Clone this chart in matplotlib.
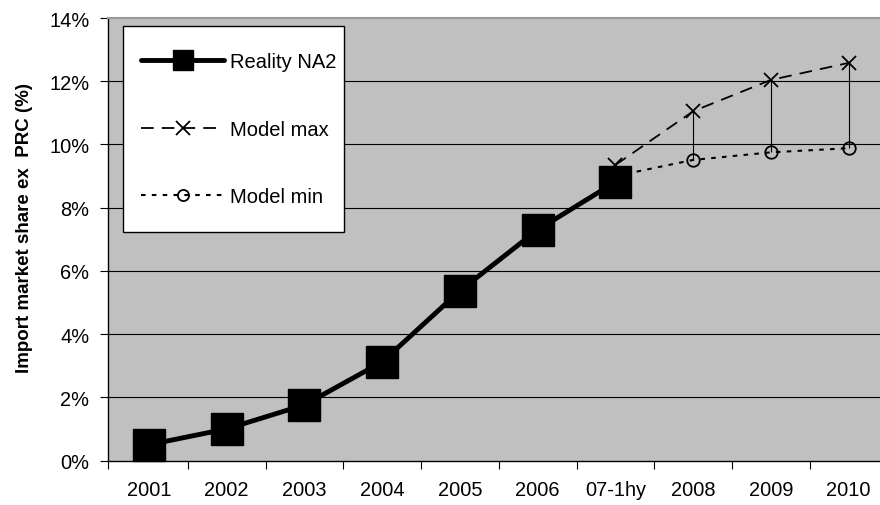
import numpy as np
import matplotlib
matplotlib.use("Agg")
import matplotlib.pyplot as plt
from matplotlib.lines import Line2D
from matplotlib.patches import Rectangle

plt.rcParams['font.family'] = ['Liberation Sans', 'DejaVu Sans']

# Categories and series (import market share, %)
categories = ["2001", "2002", "2003", "2004", "2005", "2006", "07-1hy", "2008", "2009", "2010"]
reality_na2 = [0.5, 1.0, 1.76, 3.12, 5.37, 7.3, 8.81]
model_cats = ["07-1hy", "2008", "2009", "2010"]
model_max = [9.35, 11.05, 12.04, 12.58]
model_min = [9.0, 9.51, 9.75, 9.88]
y_ticks = [0, 2, 4, 6, 8, 10, 12, 14]

x_all = np.arange(len(categories))
x_real = x_all[:len(reality_na2)]
x_model = np.array([categories.index(c) for c in model_cats])

fig = plt.figure(figsize=(8.8, 5.06), dpi=100)
ax = fig.add_axes([107.5 / 880, 44.5 / 506, 780 / 880, 442.5 / 506])
ax.set_facecolor('#c0c0c0')

# horizontal gridlines
for v in y_ticks[1:-1]:
    ax.axhline(v, color='black', lw=0.8, zorder=1)

# high-low lines between max and min
ax.vlines(x_model, model_min, model_max, color='black', lw=0.8, zorder=2)

ax.plot(x_model, model_max, color='black', lw=1.3, dashes=(7, 4.5),
        marker='x', ms=10, mew=1.3, zorder=3)
ax.plot(x_model, model_min, color='black', lw=1.5, dashes=(2.2, 3),
        marker='o', ms=9, mfc='none', mec='black', mew=1.3, zorder=3)
ax.plot(x_real, reality_na2, color='black', lw=3.5, marker='s', ms=23,
        solid_joinstyle='round', zorder=4, clip_on=False)

x_lo = -0.534
x_hi = x_lo + 9.985
ax.set_xlim(x_lo, x_hi)
ax.set_ylim(0, 14)

ax.set_yticks(y_ticks)
ax.set_yticklabels([f"{v}%" for v in y_ticks])
ax.tick_params(axis='y', length=6, width=0.8, pad=7, labelsize=14.4)

# ticks between categories, labels at category centres
ax.set_xticks([x_lo] + list(np.arange(0.5, 10.0, 1.0)))
ax.set_xticklabels([])
ax.set_xticks(x_all, minor=True)
ax.set_xticklabels(categories, minor=True)
ax.tick_params(axis='x', which='major', length=6, width=0.8)
ax.tick_params(axis='x', which='minor', length=0, pad=14, labelsize=14.4)

ax.set_ylabel("Import market share ex  PRC (%)", fontsize=13.5, fontweight='bold')
ax.yaxis.set_label_coords(-0.095, 0.528)

for s in ['left', 'bottom']:
    ax.spines[s].set_color('black')
    ax.spines[s].set_linewidth(1.0)
ax.spines['top'].set_color('#999999')
ax.spines['top'].set_linewidth(1.5)
ax.spines['right'].set_visible(False)

# legend box drawn separately so the entries can sit freely inside it
ax.add_patch(Rectangle((0.0199, 0.516), 0.283, 0.466, transform=ax.transAxes,
                       facecolor='white', edgecolor='black', lw=1.0, zorder=5))

handles = [
    Line2D([], [], color='black', lw=3.5, marker='s', ms=14, solid_capstyle='round'),
    Line2D([], [], color='black', lw=1.3, dashes=(7, 4.5), marker='x', ms=10, mew=1.3),
    Line2D([], [], color='black', lw=1.5, dashes=(2.2, 3), marker='o', ms=8, mfc='none', mew=1.3),
]
leg = ax.legend(handles, ["Reality NA2", "Model max", "Model min"],
                loc='upper left', bbox_to_anchor=(0.0203, 0.963), borderaxespad=0,
                fontsize=14.5, frameon=False,
                handlelength=4.1, handletextpad=0.3, labelspacing=2.4, borderpad=0.9)
leg.set_zorder(6)

fig.savefig("out.png", dpi=100)
